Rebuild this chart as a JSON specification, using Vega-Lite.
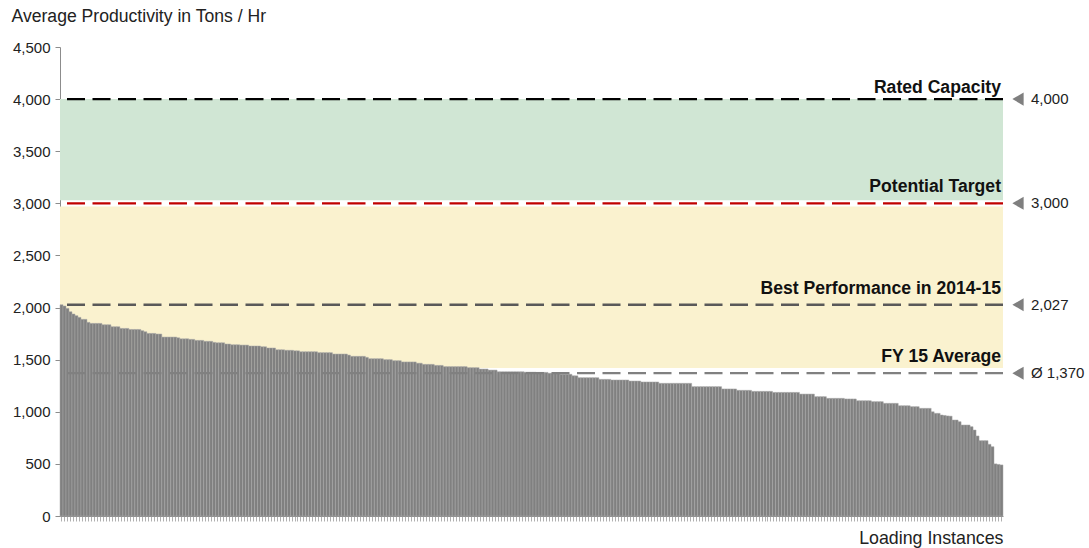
{
  "$schema": "https://vega.github.io/schema/vega-lite/v6.json",
  "width": 943,
  "height": 469,
  "autosize": "none",
  "padding": {"left": 60, "top": 47, "right": 86, "bottom": 32},
  "background": "white",
  "config": {
    "view": {"stroke": null},
    "font": "Liberation Sans",
    "axis": {"labelFont": "Liberation Sans", "titleFont": "Liberation Sans"}
  },
  "datasets": {
    "bars": [
      {"i":1,"v":2027},{"i":2,"v":2015},{"i":3,"v":1992},{"i":4,"v":1960},{"i":5,"v":1938},{"i":6,"v":1922},{"i":7,"v":1906},{"i":8,"v":1887},{"i":9,"v":1887},{"i":10,"v":1858},
      {"i":11,"v":1848},{"i":12,"v":1848},{"i":13,"v":1848},{"i":14,"v":1848},{"i":15,"v":1835},{"i":16,"v":1835},{"i":17,"v":1835},{"i":18,"v":1816},{"i":19,"v":1816},{"i":20,"v":1816},
      {"i":21,"v":1800},{"i":22,"v":1800},{"i":23,"v":1800},{"i":24,"v":1790},{"i":25,"v":1790},{"i":26,"v":1790},{"i":27,"v":1790},{"i":28,"v":1778},{"i":29,"v":1768},{"i":30,"v":1752},
      {"i":31,"v":1752},{"i":32,"v":1752},{"i":33,"v":1746},{"i":34,"v":1746},{"i":35,"v":1717},{"i":36,"v":1717},{"i":37,"v":1717},{"i":38,"v":1717},{"i":39,"v":1717},{"i":40,"v":1710},
      {"i":41,"v":1700},{"i":42,"v":1700},{"i":43,"v":1700},{"i":44,"v":1695},{"i":45,"v":1695},{"i":46,"v":1685},{"i":47,"v":1685},{"i":48,"v":1685},{"i":49,"v":1676},{"i":50,"v":1676},
      {"i":51,"v":1676},{"i":52,"v":1666},{"i":53,"v":1662},{"i":54,"v":1662},{"i":55,"v":1662},{"i":56,"v":1650},{"i":57,"v":1650},{"i":58,"v":1643},{"i":59,"v":1643},{"i":60,"v":1643},
      {"i":61,"v":1640},{"i":62,"v":1640},{"i":63,"v":1640},{"i":64,"v":1631},{"i":65,"v":1631},{"i":66,"v":1631},{"i":67,"v":1631},{"i":68,"v":1624},{"i":69,"v":1624},{"i":70,"v":1612},
      {"i":71,"v":1612},{"i":72,"v":1612},{"i":73,"v":1595},{"i":74,"v":1595},{"i":75,"v":1595},{"i":76,"v":1590},{"i":77,"v":1590},{"i":78,"v":1590},{"i":79,"v":1585},{"i":80,"v":1585},
      {"i":81,"v":1576},{"i":82,"v":1576},{"i":83,"v":1576},{"i":84,"v":1576},{"i":85,"v":1576},{"i":86,"v":1576},{"i":87,"v":1567},{"i":88,"v":1567},{"i":89,"v":1567},{"i":90,"v":1567},
      {"i":91,"v":1567},{"i":92,"v":1554},{"i":93,"v":1554},{"i":94,"v":1554},{"i":95,"v":1554},{"i":96,"v":1554},{"i":97,"v":1544},{"i":98,"v":1532},{"i":99,"v":1532},{"i":100,"v":1532},
      {"i":101,"v":1532},{"i":102,"v":1532},{"i":103,"v":1522},{"i":104,"v":1509},{"i":105,"v":1509},{"i":106,"v":1509},{"i":107,"v":1509},{"i":108,"v":1509},{"i":109,"v":1500},{"i":110,"v":1500},
      {"i":111,"v":1500},{"i":112,"v":1490},{"i":113,"v":1490},{"i":114,"v":1490},{"i":115,"v":1478},{"i":116,"v":1478},{"i":117,"v":1478},{"i":118,"v":1478},{"i":119,"v":1478},{"i":120,"v":1466},
      {"i":121,"v":1466},{"i":122,"v":1455},{"i":123,"v":1455},{"i":124,"v":1455},{"i":125,"v":1455},{"i":126,"v":1445},{"i":127,"v":1445},{"i":128,"v":1445},{"i":129,"v":1433},{"i":130,"v":1433},
      {"i":131,"v":1433},{"i":132,"v":1433},{"i":133,"v":1433},{"i":134,"v":1433},{"i":135,"v":1433},{"i":136,"v":1433},{"i":137,"v":1423},{"i":138,"v":1423},{"i":139,"v":1423},{"i":140,"v":1423},
      {"i":141,"v":1410},{"i":142,"v":1410},{"i":143,"v":1410},{"i":144,"v":1400},{"i":145,"v":1400},{"i":146,"v":1400},{"i":147,"v":1384},{"i":148,"v":1384},{"i":149,"v":1384},{"i":150,"v":1384},
      {"i":151,"v":1384},{"i":152,"v":1384},{"i":153,"v":1384},{"i":154,"v":1384},{"i":155,"v":1384},{"i":156,"v":1380},{"i":157,"v":1380},{"i":158,"v":1380},{"i":159,"v":1380},{"i":160,"v":1378},
      {"i":161,"v":1378},{"i":162,"v":1378},{"i":163,"v":1378},{"i":164,"v":1370},{"i":165,"v":1370},{"i":166,"v":1370},{"i":167,"v":1370},{"i":168,"v":1360},{"i":169,"v":1360},{"i":170,"v":1360},
      {"i":171,"v":1360},{"i":172,"v":1345},{"i":173,"v":1345},{"i":174,"v":1327},{"i":175,"v":1327},{"i":176,"v":1327},{"i":177,"v":1327},{"i":178,"v":1327},{"i":179,"v":1327},{"i":180,"v":1327},
      {"i":181,"v":1311},{"i":182,"v":1311},{"i":183,"v":1311},{"i":184,"v":1311},{"i":185,"v":1305},{"i":186,"v":1305},{"i":187,"v":1305},{"i":188,"v":1305},{"i":189,"v":1305},{"i":190,"v":1305},
      {"i":191,"v":1295},{"i":192,"v":1295},{"i":193,"v":1295},{"i":194,"v":1295},{"i":195,"v":1286},{"i":196,"v":1286},{"i":197,"v":1286},{"i":198,"v":1286},{"i":199,"v":1286},{"i":200,"v":1286},
      {"i":201,"v":1273},{"i":202,"v":1273},{"i":203,"v":1273},{"i":204,"v":1273},{"i":205,"v":1273},{"i":206,"v":1273},{"i":207,"v":1273},{"i":208,"v":1273},{"i":209,"v":1273},{"i":210,"v":1273},
      {"i":211,"v":1273},{"i":212,"v":1241},{"i":213,"v":1241},{"i":214,"v":1241},{"i":215,"v":1241},{"i":216,"v":1241},{"i":217,"v":1241},{"i":218,"v":1241},{"i":219,"v":1241},{"i":220,"v":1241},
      {"i":221,"v":1241},{"i":222,"v":1219},{"i":223,"v":1219},{"i":224,"v":1219},{"i":225,"v":1219},{"i":226,"v":1219},{"i":227,"v":1206},{"i":228,"v":1206},{"i":229,"v":1206},{"i":230,"v":1206},
      {"i":231,"v":1206},{"i":232,"v":1196},{"i":233,"v":1196},{"i":234,"v":1196},{"i":235,"v":1196},{"i":236,"v":1196},{"i":237,"v":1196},{"i":238,"v":1196},{"i":239,"v":1186},{"i":240,"v":1186},
      {"i":241,"v":1186},{"i":242,"v":1186},{"i":243,"v":1186},{"i":244,"v":1186},{"i":245,"v":1186},{"i":246,"v":1186},{"i":247,"v":1186},{"i":248,"v":1170},{"i":249,"v":1170},{"i":250,"v":1170},
      {"i":251,"v":1170},{"i":252,"v":1170},{"i":253,"v":1145},{"i":254,"v":1145},{"i":255,"v":1145},{"i":256,"v":1145},{"i":257,"v":1129},{"i":258,"v":1129},{"i":259,"v":1129},{"i":260,"v":1129},
      {"i":261,"v":1129},{"i":262,"v":1129},{"i":263,"v":1123},{"i":264,"v":1123},{"i":265,"v":1123},{"i":266,"v":1123},{"i":267,"v":1106},{"i":268,"v":1106},{"i":269,"v":1106},{"i":270,"v":1106},
      {"i":271,"v":1106},{"i":272,"v":1097},{"i":273,"v":1097},{"i":274,"v":1097},{"i":275,"v":1097},{"i":276,"v":1081},{"i":277,"v":1081},{"i":278,"v":1081},{"i":279,"v":1081},{"i":280,"v":1081},
      {"i":281,"v":1058},{"i":282,"v":1058},{"i":283,"v":1058},{"i":284,"v":1058},{"i":285,"v":1049},{"i":286,"v":1049},{"i":287,"v":1049},{"i":288,"v":1033},{"i":289,"v":1033},{"i":290,"v":1033},
      {"i":291,"v":1033},{"i":292,"v":1000},{"i":293,"v":985},{"i":294,"v":985},{"i":295,"v":969},{"i":296,"v":965},{"i":297,"v":960},{"i":298,"v":958},{"i":299,"v":921},{"i":300,"v":921},
      {"i":301,"v":905},{"i":302,"v":873},{"i":303,"v":873},{"i":304,"v":873},{"i":305,"v":857},{"i":306,"v":825},{"i":307,"v":768},{"i":308,"v":723},{"i":309,"v":723},{"i":310,"v":723},
      {"i":311,"v":688},{"i":312,"v":665},{"i":313,"v":500},{"i":314,"v":495},{"i":315,"v":490}
    ],
    "refs": [
      {"name": "Rated Capacity", "kind": "rated", "y": 4000, "tag": "4,000"},
      {"name": "Potential Target", "kind": "target", "y": 3000, "tag": "3,000"},
      {"name": "Best Performance in 2014-15", "kind": "best", "y": 2027, "tag": "2,027"},
      {"name": "FY 15 Average", "kind": "avg", "y": 1370, "tag": "Ø 1,370"}
    ]
  },
  "layer": [
    {
      "data": {"values": [{"lo": 3030, "hi": 4000}]},
      "mark": {"type": "rect", "color": "#d0e6d4"},
      "encoding": {
        "y": {"field": "lo", "type": "quantitative"},
        "y2": {"field": "hi"}
      }
    },
    {
      "data": {"values": [{"lo": 1420, "hi": 2970}]},
      "mark": {"type": "rect", "color": "#faf2cf"},
      "encoding": {
        "y": {"field": "lo", "type": "quantitative"},
        "y2": {"field": "hi"}
      }
    },
    {
      "data": {"name": "bars"},
      "mark": {"type": "bar", "color": "#808080", "stroke": "#a8a8a8", "strokeWidth": 0.5},
      "encoding": {
        "x": {
          "field": "i", "type": "ordinal", "sort": "ascending",
          "scale": {"paddingInner": 0, "paddingOuter": 0},
          "axis": {
            "labels": false, "ticks": true, "tickSize": 5, "tickColor": "#b0b0b0",
            "domainColor": "#8c8c8c", "title": "Loading Instances",
            "titleFontSize": 17.8, "titleFontWeight": "normal", "titleColor": "#222222",
            "titleX": 943, "titleY": 27, "titleAlign": "right", "titleBaseline": "alphabetic", "titleAnchor": null
          }
        },
        "y": {
          "field": "v", "type": "quantitative",
          "scale": {"domain": [0, 4500], "nice": false},
          "axis": {
            "values": [0, 500, 1000, 1500, 2000, 2500, 3000, 3500, 4000, 4500],
            "format": ",.0f", "grid": false, "tickSize": 5, "tickColor": "#8c8c8c",
            "domainColor": "#8c8c8c", "labelFontSize": 15, "labelColor": "#222222", "labelPadding": 5,
            "title": "Average Productivity in Tons / Hr", "titleAngle": 0,
            "titleFontSize": 17.6, "titleFontWeight": "normal", "titleColor": "#222222",
            "titleX": -49, "titleY": -26, "titleAlign": "left", "titleBaseline": "alphabetic", "titleAnchor": null
          }
        }
      }
    },
    {
      "data": {"name": "refs"},
      "mark": {"type": "rule", "strokeDash": [18, 7.5], "strokeWidth": 2.3},
      "encoding": {
        "y": {"field": "y", "type": "quantitative"},
        "stroke": {
          "field": "kind", "type": "nominal", "legend": null,
          "scale": {"domain": ["rated", "target", "best", "avg"], "range": ["#000000", "#c00000", "#595959", "#808080"]}
        }
      }
    },
    {
      "data": {"name": "refs"},
      "transform": [{"filter": "datum.kind === 'rated'"}],
      "mark": {"type": "text", "align": "right", "baseline": "alphabetic", "dy": -6, "dx": -2, "fontSize": 17.6, "fontWeight": "bold", "color": "#111111"},
      "encoding": {
        "x": {"datum": 315, "type": "ordinal", "bandPosition": 1},
        "y": {"field": "y", "type": "quantitative"},
        "text": {"field": "name"}
      }
    },
    {
      "data": {"name": "refs"},
      "transform": [{"filter": "datum.kind !== 'rated'"}],
      "mark": {"type": "text", "align": "right", "baseline": "alphabetic", "dy": -11, "dx": -2, "fontSize": 17.6, "fontWeight": "bold", "color": "#111111"},
      "encoding": {
        "x": {"datum": 315, "type": "ordinal", "bandPosition": 1},
        "y": {"field": "y", "type": "quantitative"},
        "text": {"field": "name"}
      }
    },
    {
      "data": {"name": "refs"},
      "mark": {"type": "point", "shape": "triangle-left", "filled": true, "color": "#7f7f7f", "opacity": 1, "size": 170, "xOffset": 15},
      "encoding": {
        "x": {"datum": 315, "type": "ordinal", "bandPosition": 1},
        "y": {"field": "y", "type": "quantitative"}
      }
    },
    {
      "data": {"name": "refs"},
      "mark": {"type": "text", "align": "left", "baseline": "middle", "dx": 28, "fontSize": 15, "color": "#222222"},
      "encoding": {
        "x": {"datum": 315, "type": "ordinal", "bandPosition": 1},
        "y": {"field": "y", "type": "quantitative"},
        "text": {"field": "tag"}
      }
    }
  ]
}
